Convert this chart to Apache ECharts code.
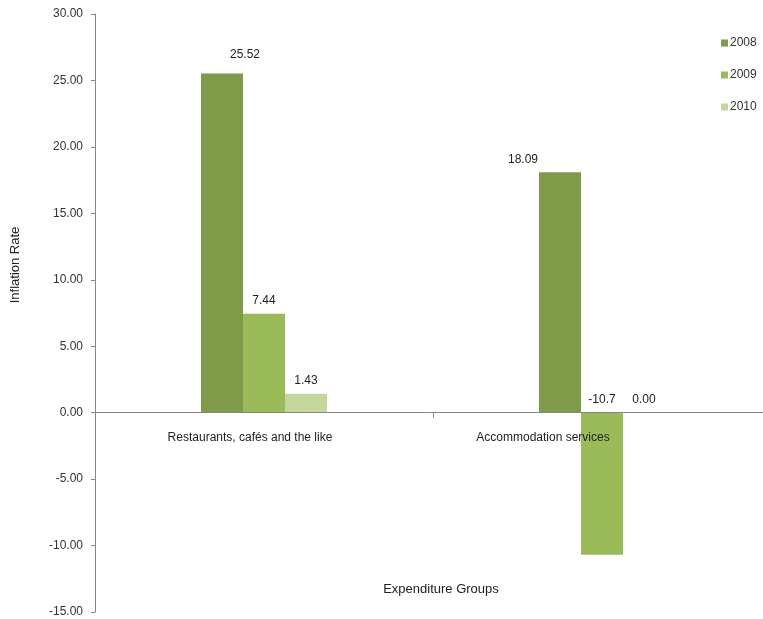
<!DOCTYPE html>
<html>
<head>
<meta charset="utf-8">
<script src="https://cdn.jsdelivr.net/npm/echarts@6/dist/echarts.min.js"></script>
<style>
  html, body { margin: 0; padding: 0; background: #fff; }
  #chart { width: 763px; height: 619px; }
</style>
</head>
<body>
<div id="chart"></div>
<script>
const categories = ["Restaurants, cafés and the like", "Accommodation services"];
const years = ["2008", "2009", "2010"];
const values2008 = [25.52, 18.09];
const values2009 = [7.44, -10.7];
const values2010 = [1.43, 0.0];
const labelTexts = [
  ["25.52", "18.09"],
  ["7.44", "-10.7"],
  ["1.43", "0.00"],
];
const colors = ["#7f9a48", "#9bbb59", "#c3d69b"];

// Excel placed a couple of labels off-centre
const labelOffsets = {
  "0-0": [23, -6],
  "0-1": [-37, 0],
};

const font = "Liberation Sans, Arial, sans-serif";
const chart = echarts.init(document.getElementById("chart"));

function makeSeries(name, values, si) {
  return {
    name: name,
    type: "bar",
    barWidth: 42,
    barGap: "0%",
    itemStyle: { color: colors[si] },
    data: values.map((v, ci) => ({
      value: v,
      label: {
        show: true,
        position: "top",
        distance: 7,
        offset: labelOffsets[si + "-" + ci] || [0, 0],
        formatter: () => labelTexts[si][ci],
        color: "#222",
        fontSize: 12,
        fontFamily: font,
      },
    })),
  };
}

const option = {
  animation: false,
  textStyle: { fontFamily: font },
  legend: {
    orient: "vertical",
    left: 716,
    top: 32,
    itemWidth: 7,
    itemHeight: 7,
    itemGap: 20,
    icon: "rect",
    data: years,
    textStyle: { color: "#333", fontSize: 12, fontFamily: font, padding: [0, 0, 0, -3] },
  },
  grid: {
    left: 95,
    right: -8,
    top: 14,
    bottom: 7,
    containLabel: false,
    outerBoundsMode: "none",
  },
  xAxis: {
    type: "category",
    z: 5,
    data: [
      { value: categories[0], textStyle: { padding: [0, 28, 0, 0] } },
      { value: categories[1], textStyle: { padding: [0, 118, 0, 0] } },
    ],
    name: "Expenditure Groups",
    nameLocation: "middle",
    nameGap: -29,
    nameTextStyle: { color: "#222", fontSize: 13, fontFamily: font, padding: [0, 0, 0, 16] },
    axisLine: { onZero: true, lineStyle: { color: "#868686" } },
    axisTick: { show: true, length: 5, lineStyle: { color: "#868686" } },
    axisLabel: { color: "#222", fontSize: 12, fontFamily: font, margin: -180 },
  },
  yAxis: {
    type: "value",
    min: -15,
    max: 30,
    interval: 5,
    splitLine: { show: false },
    axisLine: { show: true, lineStyle: { color: "#868686" } },
    axisTick: { show: true, length: 4, lineStyle: { color: "#868686" } },
    axisLabel: {
      color: "#333",
      fontSize: 12,
      fontFamily: font,
      margin: 12,
      formatter: (v) => v.toFixed(2),
    },
  },
  graphic: [
    {
      type: "text",
      x: 15,
      y: 265,
      rotation: Math.PI / 2,
      style: {
        text: "Inflation Rate",
        fill: "#222",
        font: "13px " + font,
        align: "center",
        verticalAlign: "middle",
      },
    },
  ],
  series: [
    makeSeries(years[0], values2008, 0),
    makeSeries(years[1], values2009, 1),
    makeSeries(years[2], values2010, 2),
  ],
};

chart.setOption(option);
</script>
</body>
</html>
